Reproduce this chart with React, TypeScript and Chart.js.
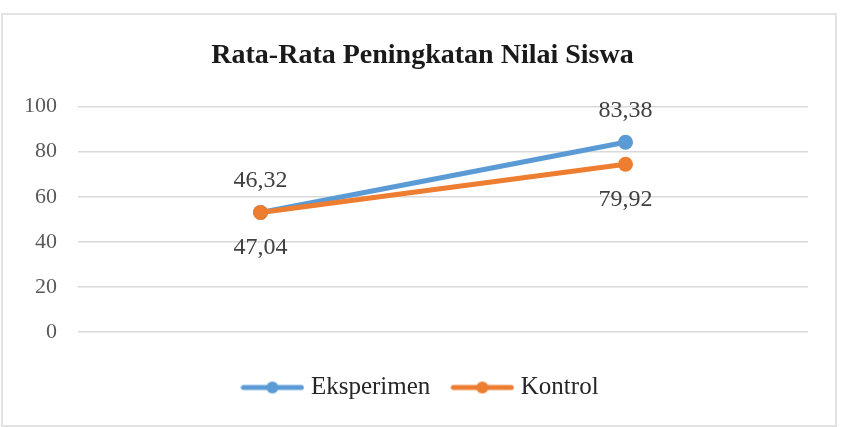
import React, { useEffect, useRef } from "react";
import { Chart, registerables } from "chart.js";

Chart.register(...registerables);

const title = "Rata-Rata Peningkatan Nilai Siswa";
const categories = ["Pretest", "Posttest"];
const seriesNames = ["Eksperimen", "Kontrol"];
const eksperimenValues = [53, 84.2];
const kontrolValues = [53, 74.4];
const eksperimenLabels = ["46,32", "83,38"];
const kontrolLabels = ["47,04", "79,92"];
const yMin = 0;
const yMax = 100;
const yStep = 20;

const BLUE = "#5B9BD5";
const ORANGE = "#ED7D31";
const FONT = "'Liberation Serif', 'Times New Roman', serif";

function legendSwatch(color: string): HTMLCanvasElement {
  const c = document.createElement("canvas");
  c.width = 64;
  c.height = 14;
  const ctx = c.getContext("2d")!;
  ctx.strokeStyle = color;
  ctx.lineWidth = 5;
  ctx.lineCap = "round";
  ctx.beginPath();
  ctx.moveTo(3, 7);
  ctx.lineTo(61, 7);
  ctx.stroke();
  ctx.fillStyle = color;
  ctx.beginPath();
  ctx.arc(32, 7, 6, 0, Math.PI * 2);
  ctx.fill();
  return c;
}

const dataLabelPlugin = {
  id: "dataLabels",
  afterDatasetsDraw(chart: any) {
    const ctx = chart.ctx;
    ctx.save();
    ctx.font = `24px ${FONT}`;
    ctx.fillStyle = "#404040";
    ctx.textAlign = "center";
    ctx.textBaseline = "middle";
    chart.data.datasets.forEach((ds: any, di: number) => {
      const meta = chart.getDatasetMeta(di);
      meta.data.forEach((pt: any, i: number) => {
        const above = ds.labelPosition === "above";
        const y = above ? pt.y - 32 : pt.y + 35;
        ctx.fillText(ds.dataLabels[i], pt.x, y);
      });
    });
    ctx.restore();
  },
};

export default function App() {
  const ref = useRef<HTMLCanvasElement | null>(null);

  useEffect(() => {
    if (!ref.current) return;
    const swatches = [legendSwatch(BLUE), legendSwatch(ORANGE)];
    const chart = new Chart(ref.current, {
      type: "line",
      data: {
        labels: categories,
        datasets: [
          {
            label: seriesNames[0],
            data: eksperimenValues,
            borderColor: BLUE,
            backgroundColor: BLUE,
            borderWidth: 5,
            pointRadius: 7.5,
            pointHoverRadius: 7.5,
            pointBackgroundColor: BLUE,
            pointBorderWidth: 0,
            order: 1,
            dataLabels: eksperimenLabels,
            labelPosition: "above",
          } as any,
          {
            label: seriesNames[1],
            data: kontrolValues,
            borderColor: ORANGE,
            backgroundColor: ORANGE,
            borderWidth: 5,
            pointRadius: 7.5,
            pointHoverRadius: 7.5,
            pointBackgroundColor: ORANGE,
            pointBorderWidth: 0,
            order: 0,
            dataLabels: kontrolLabels,
            labelPosition: "below",
          } as any,
        ],
      },
      options: {
        responsive: false,
        animation: false,
        layout: { padding: { left: 0, right: 0, top: 0, bottom: 17 } },
        scales: {
          x: {
            offset: true,
            grid: { display: false },
            border: { display: false },
            ticks: { display: false },
            afterFit: (s: any) => {
              s.height = 17;
            },
          },
          y: {
            min: yMin,
            max: yMax,
            ticks: {
              stepSize: yStep,
              color: "#595959",
              font: { family: FONT, size: 22 },
              padding: 21,
            },
            grid: { color: "#d9d9d9", lineWidth: 1.5, drawTicks: false },
            border: { display: false },
            afterFit: (s: any) => {
              s.width = 78;
            },
          },
          yRight: {
            position: "right",
            min: yMin,
            max: yMax,
            ticks: { display: false },
            grid: { display: false },
            border: { display: false },
            afterFit: (s: any) => {
              s.width = 37;
            },
          },
        },
        plugins: {
          title: {
            display: true,
            text: title,
            color: "#1a1a1a",
            font: { family: FONT, size: 28, weight: "bold" },
            padding: { top: 39, bottom: 34 },
          },
          legend: {
            position: "bottom",
            labels: {
              usePointStyle: true,
              pointStyleWidth: 52,
              boxHeight: 14,
              padding: 26,
              color: "#262626",
              font: { family: FONT, size: 25 },
              generateLabels: (c: any) =>
                c.data.datasets.map((ds: any, i: number) => ({
                  text: ds.label,
                  pointStyle: swatches[i],
                  fillStyle: ds.borderColor,
                  strokeStyle: ds.borderColor,
                  lineWidth: 0,
                  hidden: false,
                  datasetIndex: i,
                  fontColor: "#262626",
                })),
            },
          },
          tooltip: { enabled: false },
        },
      },
      plugins: [dataLabelPlugin],
    } as any);
    return () => chart.destroy();
  }, []);

  return (
    <div style={{ position: "absolute", left: 0, top: 0, width: 845, height: 427, background: "#fff" }}>
      <div
        style={{
          position: "absolute",
          left: 1,
          top: 13,
          width: 836,
          height: 414,
          border: "2px solid #e3e3e3",
          boxSizing: "border-box",
        }}
      />
      <canvas ref={ref} width={845} height={427} style={{ position: "absolute", left: 0, top: 0 }} />
    </div>
  );
}
